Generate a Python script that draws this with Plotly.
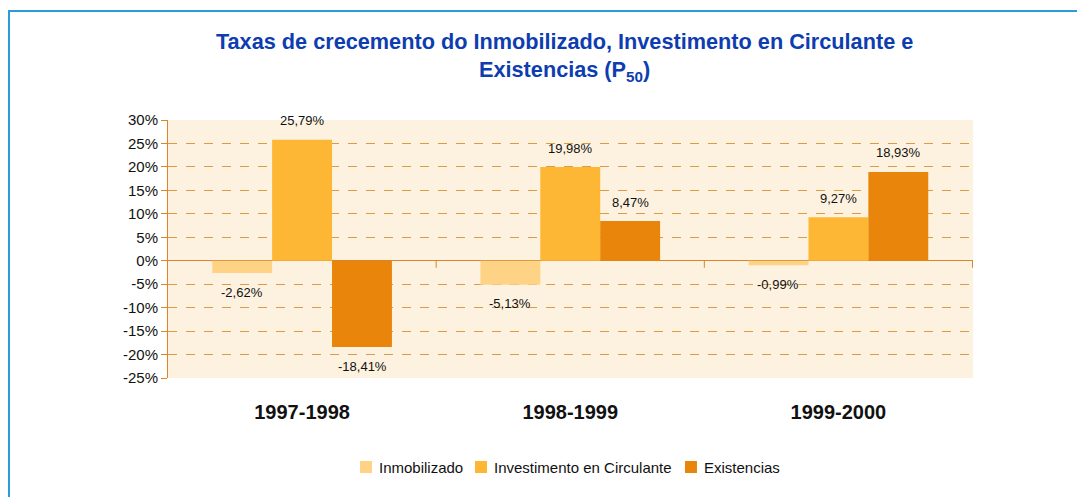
import plotly.graph_objects as go

categories = ["1997-1998", "1998-1999", "1999-2000"]
series_names = ["Inmobilizado", "Investimento en Circulante", "Existencias"]
inmobilizado = [-2.62, -5.13, -0.99]
investimento = [25.79, 19.98, 9.27]
existencias = [-18.41, 8.47, 18.93]
y_ticks = [-25, -20, -15, -10, -5, 0, 5, 10, 15, 20, 25, 30]

colors = ["#FFD386", "#FDB735", "#E8850A"]
series = [inmobilizado, investimento, existencias]

FONT = "Liberation Sans, Arial, sans-serif"

fig = go.Figure()
for name, vals, col in zip(series_names, series, colors):
    fig.add_trace(go.Bar(name=name, x=categories, y=vals, marker_color=col,
                         marker_line_width=0, showlegend=False))

# value labels
bar_px = 60
for i, vals in enumerate(series):
    for cat, v in zip(categories, vals):
        fig.add_annotation(x=cat, y=v, xref="x", yref="y",
                           text=f"{v:.2f}".replace(".", ",") + "%",
                           showarrow=False, xshift=(i - 1) * bar_px,
                           yshift=19 if v >= 0 else -19, yanchor="middle",
                           font=dict(family=FONT, size=13, color="#111111"))

# zero line tick marks at category boundaries
for xb in [0.5, 1.5, 2.5]:
    fig.add_shape(type="line", xref="x", yref="y", x0=xb, x1=xb, y0=0, y1=-1.5,
                  line=dict(color="#D9852A", width=1))

# legend (drawn manually to match the compact key spacing)
legend_sq_x = [0.2385, 0.3814, 0.6422]
for name, col, sx in zip(series_names, colors, legend_sq_x):
    fig.add_shape(type="rect", xref="paper", yref="paper", x0=sx, x1=sx + 0.0149,
                  y0=-0.3682, y1=-0.3217, fillcolor=col, line_width=0)
    fig.add_annotation(xref="paper", yref="paper", x=sx + 0.0211, y=-0.345,
                       xanchor="left", yanchor="middle", showarrow=False,
                       text=name, font=dict(family=FONT, size=15, color="#111111"))

# outer frame
fig.add_shape(type="rect", xref="paper", yref="paper", x0=-0.1975, x1=1.16,
              y0=-0.48, y1=1.4225, line=dict(color="#2E9BD6", width=2),
              fillcolor="rgba(0,0,0,0)", layer="below")

fig.update_layout(
    width=1085, height=497,
    margin=dict(l=160, r=120, t=112, b=127),
    paper_bgcolor="white", plot_bgcolor="#FDF2DF",
    barmode="group", bargap=0.33, bargroupgap=0,
    title=dict(text="<b>Taxas de crecemento do Inmobilizado, Investimento en Circulante e<br>Existencias (P<sub>50</sub>)</b>",
               x=0.513, xanchor="center", y=0.917, yanchor="middle",
               font=dict(family=FONT, size=21.7, color="#0D3DB0")),
    font=dict(family=FONT, color="#111111"),
    showlegend=False,
    xaxis=dict(showgrid=False, showline=False, zeroline=False,
               ticks="outside", ticklen=16, tickcolor="rgba(0,0,0,0)",
               tickfont=dict(family=FONT, size=20, color="#111111"),
               tickprefix="<b>", ticksuffix="</b>"),
    yaxis=dict(range=[-25, 30], tickvals=y_ticks,
               ticktext=[f"{v}%" for v in y_ticks],
               showgrid=True, gridcolor="#DE9A45", griddash="dash", gridwidth=1,
               zeroline=True, zerolinecolor="#D9852A", zerolinewidth=1,
               showline=True, linecolor="#D9852A", linewidth=1,
               ticks="outside", ticklen=6, tickcolor="#D9852A",
               tickfont=dict(family=FONT, size=15, color="#111111")),
)

fig.write_html("out.html")
